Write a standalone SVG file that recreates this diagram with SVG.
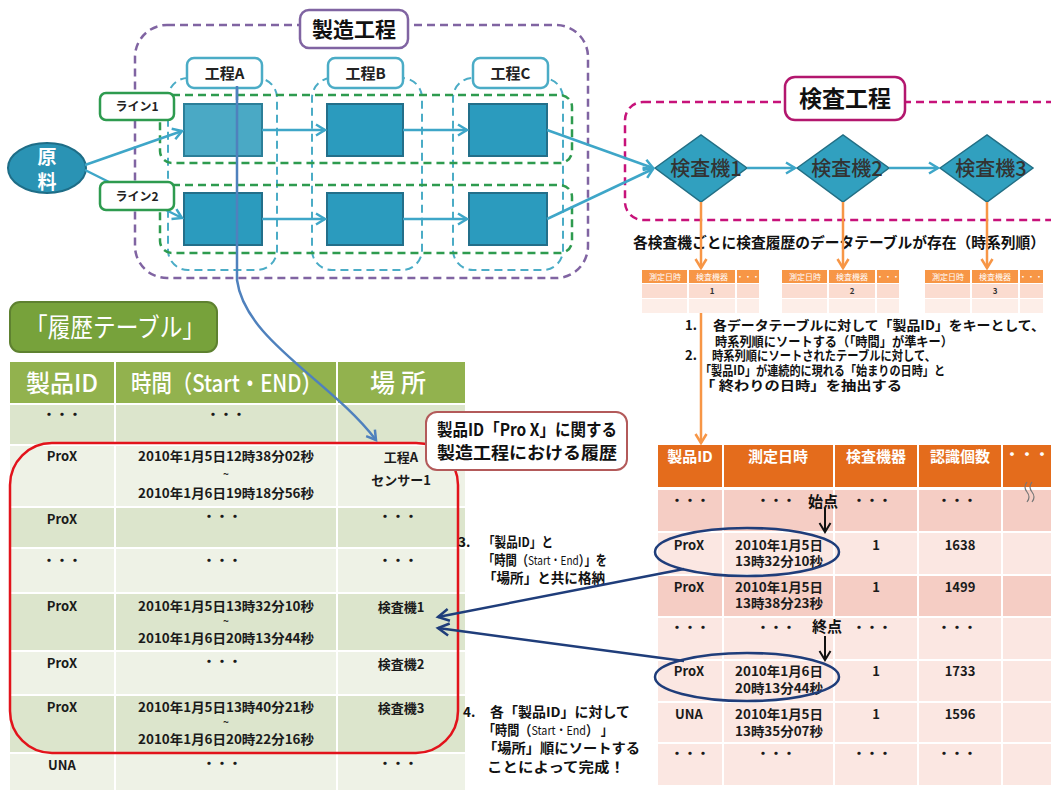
<svg xmlns="http://www.w3.org/2000/svg" width="1051" height="790" viewBox="0 0 1051 790">
<style>
text{font-family:"Noto Sans CJK JP","Noto Sans",sans-serif;}
.b{font-weight:bold}
.m{text-anchor:middle}
.d{font-size:13px;font-weight:bold;fill:#1a1a1a;text-anchor:middle}
.ds{font-size:13px;font-weight:bold;fill:#1a1a1a}
.tl{font-size:10px;font-weight:bold;fill:#1a1a1a;text-anchor:middle}
.proc{fill:#2B9BBE;stroke:#236F8A;stroke-width:2}
.lbl{fill:#fff;stroke:#4BACC6;stroke-width:2.5}
.lbt{font-size:15px;font-weight:bold;fill:#222;text-anchor:middle}
.line{fill:#fff;stroke:#2E9B4F;stroke-width:2.5}
.lnt{font-size:12px;font-weight:bold;fill:#222;text-anchor:middle}
.cyd{fill:none;stroke:#4BACC6;stroke-width:2;stroke-dasharray:8 5}
.grd{fill:none;stroke:#2E9B4F;stroke-width:2.5;stroke-dasharray:8 5}
.cy{fill:none;stroke:#3EA6C8;stroke-width:2.5}
.or{fill:none;stroke:#F79646;stroke-width:2.5}
.nv{fill:none;stroke:#1F3D7A;stroke-width:2.5}
.dia{fill:#31A0BF;stroke:#226F85;stroke-width:1.5}
.dt{font-size:20px;font-weight:500;fill:#333;text-anchor:middle}
.st{font-size:13px;font-weight:bold;fill:#111}
.st2{font-size:13.5px;font-weight:bold;fill:#111}
.mh{fill:#F79646}
.mr1{fill:#FBDCD0}
.mr2{fill:#FDEEE8}
.mt{font-size:8px;fill:#fff;text-anchor:middle}
.gd{fill:#DCE5CC}
.gl{fill:#EEF2E6}
.pk{fill:#F5CDC4}
.pl{fill:#FBE7E2}
.ht{font-size:15px;font-weight:bold;fill:#fff;text-anchor:middle}
.sep{stroke:#fff;stroke-width:2}
</style>
<defs>
<marker id="aCy" markerUnits="userSpaceOnUse" markerWidth="14" markerHeight="14" refX="11" refY="7" orient="auto"><path d="M2,1.5 L11,7 L2,12.5" fill="none" stroke="#3EA6C8" stroke-width="2.5"/></marker>
<marker id="aOr" markerUnits="userSpaceOnUse" markerWidth="14" markerHeight="14" refX="11" refY="7" orient="auto"><path d="M2,1.5 L11,7 L2,12.5" fill="none" stroke="#F79646" stroke-width="2.5"/></marker>
<marker id="aNv" markerUnits="userSpaceOnUse" markerWidth="16" markerHeight="16" refX="13" refY="8" orient="auto"><path d="M2,2 L13,8 L2,14" fill="none" stroke="#1F3D7A" stroke-width="2.5"/></marker>
<marker id="aBl" markerUnits="userSpaceOnUse" markerWidth="14" markerHeight="14" refX="11" refY="7" orient="auto"><path d="M2,1.5 L11,7 L2,12.5" fill="none" stroke="#4F81BD" stroke-width="2.5"/></marker>
<marker id="aBk" markerUnits="userSpaceOnUse" markerWidth="14" markerHeight="14" refX="11" refY="7" orient="auto"><path d="M2,1.5 L11,7 L2,12.5" fill="none" stroke="#111" stroke-width="2"/></marker>
</defs>
<rect width="1051" height="790" fill="#fff"/>

<g id="manufacturing">
<rect x="135" y="25" width="453" height="253" rx="32" fill="none" stroke="#8064A2" stroke-width="2.5" stroke-dasharray="8 5"/>
<rect class="cyd" x="168" y="78" width="109" height="192" rx="20"/>
<rect class="cyd" x="312" y="78" width="110" height="192" rx="20"/>
<rect class="cyd" x="453" y="78" width="110" height="192" rx="20"/>
<rect class="grd" x="160" y="95" width="412" height="68" rx="12"/>
<rect class="grd" x="160" y="185" width="412" height="68" rx="12"/>
</g>
<g id="procA1"><rect x="184" y="104" width="78" height="52" fill="#4AA9C5" stroke="#2C7F99" stroke-width="2"/></g>
<g id="procB1"><rect class="proc" x="327" y="104" width="76" height="52"/></g>
<g id="procC1"><rect class="proc" x="469" y="104" width="78" height="52"/></g>
<g id="procA2"><rect class="proc" x="184" y="193" width="78" height="52"/></g>
<g id="procB2"><rect class="proc" x="327" y="193" width="76" height="52"/></g>
<g id="procC2"><rect class="proc" x="469" y="193" width="78" height="52"/></g>

<g id="material">
<ellipse cx="47" cy="168" rx="39" ry="25" fill="#2A93B4" stroke="#1E6D87" stroke-width="2"/>
<text x="47" y="164" class="m b" font-size="19" fill="#fff">原</text>
<text x="47" y="189" class="m b" font-size="19" fill="#fff">料</text>
</g>

<g id="inspection">
<rect x="625" y="102" width="445" height="118" rx="18" fill="none" stroke="#C7127A" stroke-width="2.5" stroke-dasharray="8 5"/>
</g>
<g id="insp1"><polygon class="dia" points="655,168 701,135 747,168 701,202"/><text class="dt" x="706" y="176">検査機1</text></g>
<g id="insp2"><polygon class="dia" points="797,168 843,135 889,168 843,202"/><text class="dt" x="847" y="176">検査機2</text></g>
<g id="insp3"><polygon class="dia" points="940,168 987,135 1033,168 987,202"/><text class="dt" x="991" y="176">検査機3</text></g>

<text x="633" y="248" class="b" font-size="15" fill="#111" textLength="412" lengthAdjust="spacingAndGlyphs">各検査機ごとに検査履歴のデータテーブルが存在（時系列順）</text>

<g id="mini1">
<rect class="mh" x="642" y="270" width="117" height="13"/>
<rect class="mr1" x="642" y="284" width="117" height="14"/>
<rect class="mr2" x="642" y="299" width="117" height="14"/>
<line class="sep" x1="688" y1="270" x2="688" y2="313" stroke-width="1.5"/>
<line class="sep" x1="736" y1="270" x2="736" y2="313" stroke-width="1.5"/>
<text class="mt" x="665" y="280">測定日時</text><text class="mt" x="712" y="280">検査機器</text><text class="mt" x="748" y="280">・・・</text>
<text x="712" y="294" class="m b" font-size="8" fill="#333">1</text>
</g>
<g id="mini2">
<rect class="mh" x="782" y="270" width="117" height="13"/>
<rect class="mr1" x="782" y="284" width="117" height="14"/>
<rect class="mr2" x="782" y="299" width="117" height="14"/>
<line class="sep" x1="828" y1="270" x2="828" y2="313" stroke-width="1.5"/>
<line class="sep" x1="876" y1="270" x2="876" y2="313" stroke-width="1.5"/>
<text class="mt" x="805" y="280">測定日時</text><text class="mt" x="852" y="280">検査機器</text><text class="mt" x="888" y="280">・・・</text>
<text x="852" y="294" class="m b" font-size="8" fill="#333">2</text>
</g>
<g id="mini3">
<rect class="mh" x="925" y="270" width="118" height="13"/>
<rect class="mr1" x="925" y="284" width="118" height="14"/>
<rect class="mr2" x="925" y="299" width="118" height="14"/>
<line class="sep" x1="971" y1="270" x2="971" y2="313" stroke-width="1.5"/>
<line class="sep" x1="1019" y1="270" x2="1019" y2="313" stroke-width="1.5"/>
<text class="mt" x="948" y="280">測定日時</text><text class="mt" x="995" y="280">検査機器</text><text class="mt" x="1031" y="280">・・・</text>
<text x="995" y="294" class="m b" font-size="8" fill="#333">3</text>
</g>

<g id="steps12">
<text class="st" x="685" y="330">1.</text>
<text class="st" x="713" y="330" textLength="332" lengthAdjust="spacingAndGlyphs">各データテーブルに対して「製品ID」をキーとして、</text>
<text class="st" x="715" y="346" textLength="238" lengthAdjust="spacingAndGlyphs">時系列順にソートする（「時間」が準キー）</text>
<text class="st" x="685" y="360">2.</text>
<text class="st" x="712" y="360" textLength="224" lengthAdjust="spacingAndGlyphs">時系列順にソートされたテーブルに対して、</text>
<text class="st" x="700" y="375" textLength="245" lengthAdjust="spacingAndGlyphs">「製品ID」が連続的に現れる「始まりの日時」と</text>
<text class="st" x="700" y="390" textLength="202" lengthAdjust="spacingAndGlyphs">「 終わりの日時」を抽出する</text>
</g>

<g id="historyTitle">
<rect x="10" y="302" width="207" height="50" rx="10" fill="#77A23B" stroke="#5E8130" stroke-width="2"/>
<text x="25" y="337" font-size="26" fill="#fff" textLength="180" lengthAdjust="spacingAndGlyphs">「履歴テーブル」</text>
</g>

<g id="historyTable">
<rect x="10" y="362" width="455" height="41" fill="#92B24E"/>
<rect class="gd" x="10" y="405" width="455" height="39"/>
<rect class="gl" x="10" y="446" width="455" height="60"/>
<rect class="gd" x="10" y="508" width="455" height="39"/>
<rect class="gl" x="10" y="549" width="455" height="43"/>
<rect class="gd" x="10" y="594" width="455" height="56"/>
<rect class="gl" x="10" y="652" width="455" height="42"/>
<rect class="gd" x="10" y="696" width="455" height="56"/>
<rect class="gl" x="10" y="754" width="455" height="36"/>
<line class="sep" x1="115" y1="362" x2="115" y2="790"/>
<line class="sep" x1="337" y1="362" x2="337" y2="790"/>
<text x="62" y="392" class="m" font-size="24" font-weight="500" fill="#fff">製品ID</text>
<text x="131" y="392" font-size="24" font-weight="500" fill="#fff" textLength="191" lengthAdjust="spacingAndGlyphs">時間（Start・END）</text>
<text x="401" y="392" class="m" font-size="25" font-weight="500" fill="#fff" letter-spacing="6">場所</text>
<text class="d" x="62" y="419">・・・</text><text class="d" x="226" y="419">・・・</text>
<text class="d" x="62" y="461">ProX</text>
<text class="ds" x="138" y="461" textLength="176" lengthAdjust="spacingAndGlyphs">2010年1月5日12時38分02秒</text>
<text class="tl" x="226" y="478">~</text>
<text class="ds" x="138" y="498" textLength="176" lengthAdjust="spacingAndGlyphs">2010年1月6日19時18分56秒</text>
<text class="d" x="401" y="462" font-size="14">工程A</text>
<text class="d" x="401" y="485" font-size="14">センサー1</text>
<text class="d" x="62" y="524">ProX</text><text class="d" x="222" y="521">・・・</text><text class="d" x="398" y="521">・・・</text>
<text class="d" x="62" y="565">・・・</text><text class="d" x="222" y="565">・・・</text><text class="d" x="398" y="565">・・・</text>
<text class="d" x="62" y="611">ProX</text>
<text class="ds" x="138" y="611" textLength="176" lengthAdjust="spacingAndGlyphs">2010年1月5日13時32分10秒</text>
<text class="tl" x="226" y="625">~</text>
<text class="ds" x="138" y="643" textLength="176" lengthAdjust="spacingAndGlyphs">2010年1月6日20時13分44秒</text>
<text class="d" x="401" y="612" font-size="14">検査機1</text>
<text class="d" x="62" y="668">ProX</text><text class="d" x="222" y="666">・・・</text><text class="d" x="401" y="669" font-size="14">検査機2</text>
<text class="d" x="62" y="712">ProX</text>
<text class="ds" x="138" y="712" textLength="176" lengthAdjust="spacingAndGlyphs">2010年1月5日13時40分21秒</text>
<text class="tl" x="226" y="726">~</text>
<text class="ds" x="138" y="744" textLength="176" lengthAdjust="spacingAndGlyphs">2010年1月6日20時22分16秒</text>
<text class="d" x="401" y="713" font-size="14">検査機3</text>
<text class="d" x="62" y="770">UNA</text><text class="d" x="222" y="768">・・・</text><text class="d" x="398" y="768">・・・</text>
<rect x="10" y="443" width="448" height="310" rx="42" fill="none" stroke="#E2131B" stroke-width="2.5"/>
</g>

<g id="callout">
<rect x="426" y="412" width="201" height="58" rx="11" fill="#fff" stroke="#B35A5A" stroke-width="2"/>
<text x="437" y="436" class="b" font-size="17" fill="#111" textLength="180" lengthAdjust="spacingAndGlyphs">製品ID「Pro X」に関する</text>
<text x="437" y="459" class="b" font-size="17" fill="#111" textLength="180" lengthAdjust="spacingAndGlyphs">製造工程における履歴</text>
</g>

<g id="step3">
<text class="st2" x="458" y="547">3.</text>
<text class="st2" x="483" y="547" textLength="70" lengthAdjust="spacingAndGlyphs">「製品ID」と</text>
<text class="st2" x="483" y="565" textLength="124" lengthAdjust="spacingAndGlyphs">「時間（<tspan font-weight="normal" font-size="12">Start・End</tspan>）」を</text>
<text class="st2" x="483" y="583" textLength="122" lengthAdjust="spacingAndGlyphs">「場所」と共に格納</text>
</g>
<g id="step4">
<text class="st2" x="463" y="717">4.</text>
<text class="st2" x="490" y="717" textLength="140" lengthAdjust="spacingAndGlyphs">各「製品ID」に対して</text>
<text class="st2" x="483" y="735" textLength="130" lengthAdjust="spacingAndGlyphs">「時間（<tspan font-weight="normal" font-size="12">Start・End</tspan>） 」</text>
<text class="st2" x="483" y="753" textLength="157" lengthAdjust="spacingAndGlyphs">「場所」順にソートする</text>
<text class="st2" x="487" y="772" textLength="138" lengthAdjust="spacingAndGlyphs">ことによって完成！</text>
</g>

<g id="inspectionTable">
<rect x="658" y="445" width="393" height="42" fill="#E46C1C"/>
<rect class="pk" x="658" y="490" width="393" height="41"/>
<rect class="pl" x="658" y="533" width="393" height="41"/>
<rect class="pk" x="658" y="576" width="393" height="40"/>
<rect class="pl" x="658" y="618" width="393" height="41"/>
<rect class="pl" x="658" y="661" width="393" height="40"/>
<rect class="pl" x="658" y="703" width="393" height="39"/>
<rect class="pl" x="658" y="744" width="393" height="41"/>
<line class="sep" x1="723" y1="445" x2="723" y2="785"/>
<line class="sep" x1="834" y1="445" x2="834" y2="785"/>
<line class="sep" x1="918" y1="445" x2="918" y2="785"/>
<line class="sep" x1="1002" y1="445" x2="1002" y2="785"/>
<text class="ht" x="690" y="462">製品ID</text>
<text class="ht" x="778" y="462">測定日時</text>
<text class="ht" x="876" y="462">検査機器</text>
<text class="ht" x="960" y="462">認識個数</text>
<text class="ht" x="1027" y="460">・・・</text>
<path d="M1027,482 q-4,5 0,10 q4,5 0,10 M1032,482 q-4,5 0,10 q4,5 0,10" fill="none" stroke="#777" stroke-width="1.2"/>
<text class="d" x="690" y="505">・・・</text><text class="d" x="776" y="505">・・・</text><text class="d" x="872" y="505">・・・</text><text class="d" x="957" y="505">・・・</text>
<text class="b m" x="823" y="507" font-size="15" fill="#111">始点</text>
<text class="d" x="689" y="550">ProX</text>
<text class="ds" x="735" y="550" textLength="88" lengthAdjust="spacingAndGlyphs">2010年1月5日</text>
<text class="ds" x="735" y="566" textLength="88" lengthAdjust="spacingAndGlyphs">13時32分10秒</text>
<text class="d" x="876" y="550">1</text><text class="d" x="960" y="550">1638</text>
<text class="d" x="689" y="592">ProX</text>
<text class="ds" x="735" y="592" textLength="88" lengthAdjust="spacingAndGlyphs">2010年1月5日</text>
<text class="ds" x="735" y="608" textLength="88" lengthAdjust="spacingAndGlyphs">13時38分23秒</text>
<text class="d" x="876" y="592">1</text><text class="d" x="960" y="592">1499</text>
<text class="d" x="690" y="632">・・・</text><text class="d" x="776" y="632">・・・</text><text class="d" x="872" y="632">・・・</text><text class="d" x="957" y="632">・・・</text>
<text class="b m" x="827" y="632" font-size="15" fill="#111">終点</text>
<text class="d" x="689" y="676">ProX</text>
<text class="ds" x="735" y="676" textLength="88" lengthAdjust="spacingAndGlyphs">2010年1月6日</text>
<text class="ds" x="735" y="693" textLength="88" lengthAdjust="spacingAndGlyphs">20時13分44秒</text>
<text class="d" x="876" y="676">1</text><text class="d" x="960" y="676">1733</text>
<text class="d" x="689" y="719">UNA</text>
<text class="ds" x="735" y="719" textLength="88" lengthAdjust="spacingAndGlyphs">2010年1月5日</text>
<text class="ds" x="735" y="736" textLength="88" lengthAdjust="spacingAndGlyphs">13時35分07秒</text>
<text class="d" x="876" y="719">1</text><text class="d" x="960" y="719">1596</text>
<text class="d" x="690" y="758">・・・</text><text class="d" x="776" y="758">・・・</text><text class="d" x="872" y="758">・・・</text><text class="d" x="957" y="758">・・・</text>
<ellipse cx="747" cy="552" rx="92" ry="24" class="nv"/>
<ellipse cx="747" cy="677" rx="92" ry="24" class="nv"/>
</g>

<g id="connectors">
<path class="cy" d="M85,165 L182,131" marker-end="url(#aCy)"/>
<path class="cy" d="M85,170 L109,182"/>
<path class="cy" d="M166,210 L182,218" marker-end="url(#aCy)"/>
<path class="cy" d="M262,130 L325,130" marker-end="url(#aCy)"/>
<path class="cy" d="M403,130 L467,130" marker-end="url(#aCy)"/>
<path class="cy" d="M262,219 L325,219" marker-end="url(#aCy)"/>
<path class="cy" d="M403,219 L467,219" marker-end="url(#aCy)"/>
<path class="cy" d="M547,130 L653,168" marker-end="url(#aCy)"/>
<path class="cy" d="M547,219 L653,169" marker-end="url(#aCy)"/>
<path class="cy" d="M747,168 L795,168" marker-end="url(#aCy)"/>
<path class="cy" d="M889,168 L938,168" marker-end="url(#aCy)"/>
<path class="or" d="M701,202 L701,268" marker-end="url(#aOr)"/>
<path class="or" d="M843,202 L843,268" marker-end="url(#aOr)"/>
<path class="or" d="M987,202 L987,268" marker-end="url(#aOr)"/>
<path class="or" d="M701,313 L701,443" marker-end="url(#aOr)"/>
<path d="M237,86 L237,280 C245,340 330,380 376,440" fill="none" stroke="#4F81BD" stroke-width="2.5" marker-end="url(#aBl)"/>
<path class="nv" d="M684,569 L438,617" marker-end="url(#aNv)"/>
<path class="nv" d="M684,661 L438,628" marker-end="url(#aNv)"/>
<path d="M825,508 L825,532" fill="none" stroke="#111" stroke-width="2" marker-end="url(#aBk)"/>
<path d="M825,636 L825,660" fill="none" stroke="#111" stroke-width="2" marker-end="url(#aBk)"/>
</g>

<g id="labelMfg"><rect x="300" y="10" width="108" height="38" rx="9" fill="#fff" stroke="#8064A2" stroke-width="2.5"/><text x="354" y="37" class="m b" font-size="21" fill="#111">製造工程</text></g>
<g id="labelInsp"><rect x="785" y="77" width="120" height="43" rx="10" fill="#fff" stroke="#B3176E" stroke-width="2.5"/><text x="845" y="107" class="m b" font-size="23" fill="#111">検査工程</text></g>
<g id="labelA"><rect class="lbl" x="187" y="58" width="75" height="30" rx="7"/><text class="lbt" x="224.5" y="79">工程A</text></g>
<g id="labelB"><rect class="lbl" x="328" y="58" width="75" height="30" rx="7"/><text class="lbt" x="365.5" y="79">工程B</text></g>
<g id="labelC"><rect class="lbl" x="473" y="58" width="75" height="30" rx="7"/><text class="lbt" x="510.5" y="79">工程C</text></g>
<g id="line1"><rect class="line" x="100" y="93" width="74" height="27" rx="6"/><text class="lnt" x="137" y="111">ライン1</text></g>
<g id="line2"><rect class="line" x="100" y="182" width="74" height="28" rx="6"/><text class="lnt" x="137" y="201">ライン2</text></g>
<path d="M237,86 L237,100" fill="none" stroke="#4F81BD" stroke-width="2.5"/>
</svg>
